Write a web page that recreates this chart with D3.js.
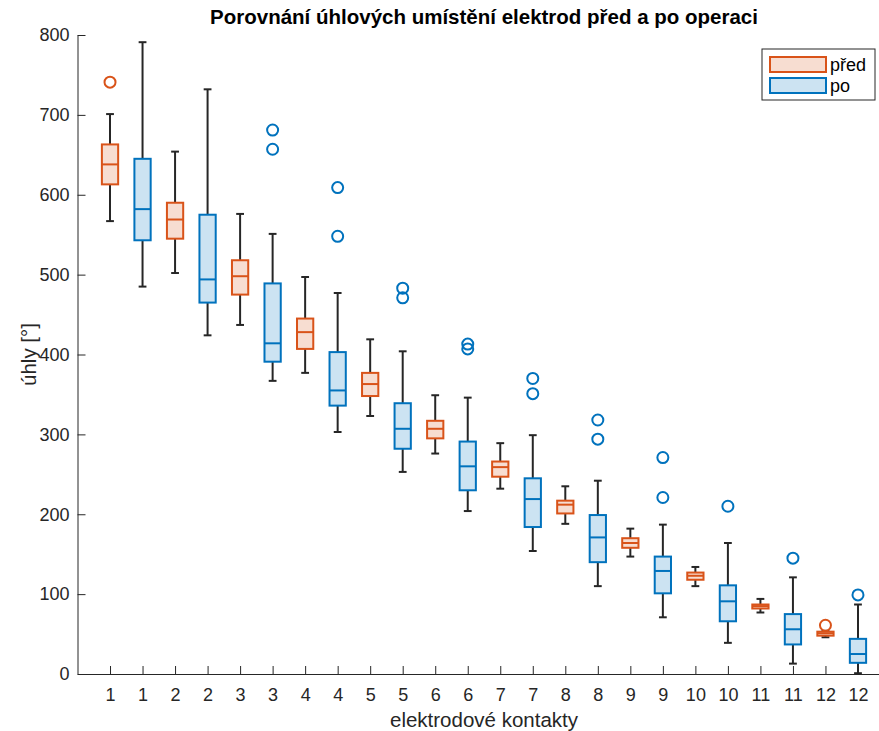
<!DOCTYPE html>
<html>
<head>
<meta charset="utf-8">
<script src="https://cdn.jsdelivr.net/npm/d3@7"></script>
<style>
  body { margin: 0; background: #fff; }
  svg { display: block; font-family: "Liberation Sans", Arial, sans-serif; }
</style>
</head>
<body>
<div id="chart"></div>
<script>
//----------------------------
// Data
//----------------------------

var contacts = ["1", "2", "3", "4", "5", "6", "7", "8", "9", "10", "11", "12"];

// před (before)
var predLow  = [567, 502, 437, 377, 323, 276, 232, 188, 147, 110, 77, 46];
var predQ1   = [613, 545, 475, 407, 348, 295, 247, 201, 158, 118, 82, 48];
var predMed  = [638, 569, 498, 428, 363, 307, 259, 212, 164, 123, 85, 51];
var predQ3   = [663, 590, 518, 445, 377, 317, 266, 217, 170, 127, 87, 53];
var predHigh = [701, 654, 576, 497, 419, 349, 289, 235, 182, 134, 94, 54];
var predOut  = [[741], [], [], [], [], [], [], [], [], [], [], [61]];

// po (after)
var poLow  = [485, 424, 367, 303, 253, 204, 154, 110, 71, 39, 13, 1];
var poQ1   = [543, 465, 391, 336, 282, 230, 184, 140, 101, 66, 37, 14];
var poMed  = [582, 494, 414, 355, 307, 260, 219, 171, 129, 91, 56, 25];
var poQ3   = [645, 575, 489, 403, 339, 291, 245, 199, 147, 111, 75, 44];
var poHigh = [791, 732, 551, 477, 404, 346, 299, 242, 187, 164, 121, 87];
var poOut  = [[], [], [657, 681], [548, 609], [471, 483], [407, 413],
              [351, 370], [294, 318], [221, 271], [210], [145], [99]];

var yTicks = [0, 100, 200, 300, 400, 500, 600, 700, 800];

//----------------------------
// Setup
//----------------------------

var w = 879, h = 731;
var orange = "#D95319", orangeFill = "#F7DDD1";
var blue = "#0072BD", blueFill = "#CCE3F2";
var ink = "#262626";

var svg = d3.select("#chart")
    .append("svg")
    .attr("width", w)
    .attr("height", h);

var x = d3.scaleLinear().domain([0, 25]).range([77.5, 890.5]);
var y = d3.scaleLinear().domain([0, 800]).range([674, 35]);

// one entry per box, alternating před / po
var boxes = [];
contacts.forEach(function (c, i) {
    boxes.push({ label: c, pos: 2 * i + 1, low: predLow[i], q1: predQ1[i], med: predMed[i],
                 q3: predQ3[i], high: predHigh[i], out: predOut[i], stroke: orange, fill: orangeFill });
    boxes.push({ label: c, pos: 2 * i + 2, low: poLow[i], q1: poQ1[i], med: poMed[i],
                 q3: poQ3[i], high: poHigh[i], out: poOut[i], stroke: blue, fill: blueFill });
});

//----------------------------
// Axes
//----------------------------

var yAxis = svg.append("g")
    .attr("transform", "translate(" + x(0) + ",0)")
    .call(d3.axisLeft(y).tickValues(yTicks).tickSizeInner(-8).tickSizeOuter(0).tickPadding(8));

var xAxis = svg.append("g")
    .attr("transform", "translate(0," + y(0) + ")")
    .call(d3.axisBottom(x)
        .tickValues(boxes.map(function (d) { return d.pos; }))
        .tickFormat(function (d, i) { return boxes[i].label; })
        .tickSizeInner(-8).tickSizeOuter(0).tickPadding(14));

[yAxis, xAxis].forEach(function (g) {
    g.selectAll("path, line").attr("stroke", ink).attr("stroke-width", 1);
    g.selectAll("text").attr("fill", ink).attr("font-size", 18)
        .attr("font-family", "Liberation Sans, Arial, sans-serif");
});

//----------------------------
// Boxes
//----------------------------

var halfBox = (x(1) - x(0)) * 0.25;
var halfCap = (x(1) - x(0)) * 0.12;

var g = svg.append("g");

var bx = g.selectAll("g.box")
    .data(boxes)
    .enter()
    .append("g")
    .attr("class", "box");

// whiskers
bx.append("line")
    .attr("x1", d => x(d.pos)).attr("x2", d => x(d.pos))
    .attr("y1", d => y(d.q3)).attr("y2", d => y(d.high))
    .attr("stroke", ink).attr("stroke-width", 2);
bx.append("line")
    .attr("x1", d => x(d.pos)).attr("x2", d => x(d.pos))
    .attr("y1", d => y(d.q1)).attr("y2", d => y(d.low))
    .attr("stroke", ink).attr("stroke-width", 2);
bx.append("line")
    .attr("x1", d => x(d.pos) - halfCap).attr("x2", d => x(d.pos) + halfCap)
    .attr("y1", d => y(d.high)).attr("y2", d => y(d.high))
    .attr("stroke", ink).attr("stroke-width", 2);
bx.append("line")
    .attr("x1", d => x(d.pos) - halfCap).attr("x2", d => x(d.pos) + halfCap)
    .attr("y1", d => y(d.low)).attr("y2", d => y(d.low))
    .attr("stroke", ink).attr("stroke-width", 2);

// box
bx.append("rect")
    .attr("x", d => x(d.pos) - halfBox)
    .attr("width", halfBox * 2)
    .attr("y", d => y(d.q3))
    .attr("height", d => y(d.q1) - y(d.q3))
    .attr("fill", d => d.fill)
    .attr("stroke", d => d.stroke)
    .attr("stroke-width", 2);

// median
bx.append("line")
    .attr("x1", d => x(d.pos) - halfBox).attr("x2", d => x(d.pos) + halfBox)
    .attr("y1", d => y(d.med)).attr("y2", d => y(d.med))
    .attr("stroke", d => d.stroke).attr("stroke-width", 2);

// outliers
bx.selectAll("circle")
    .data(d => d.out.map(v => ({ v: v, pos: d.pos, stroke: d.stroke })))
    .enter()
    .append("circle")
    .attr("cx", d => x(d.pos))
    .attr("cy", d => y(d.v))
    .attr("r", 5.5)
    .attr("fill", "none")
    .attr("stroke", d => d.stroke)
    .attr("stroke-width", 2);

//----------------------------
// Labels
//----------------------------

svg.append("text")
    .attr("x", (x(0) + x(25)) / 2)
    .attr("y", 24)
    .attr("text-anchor", "middle")
    .attr("font-weight", "bold")
    .attr("font-size", 20.5)
    .attr("fill", "#000")
    .text("Porovnání úhlových umístění elektrod před a po operaci");

svg.append("text")
    .attr("x", (x(0) + x(25)) / 2)
    .attr("y", 727)
    .attr("text-anchor", "middle")
    .attr("font-size", 20.5)
    .attr("fill", ink)
    .text("elektrodové kontakty");

svg.append("text")
    .attr("transform", "translate(36," + y(400) + ") rotate(-90)")
    .attr("text-anchor", "middle")
    .attr("font-size", 20.5)
    .attr("fill", ink)
    .text("úhly [°]");

//----------------------------
// Legend
//----------------------------

var legend = svg.append("g").attr("transform", "translate(762,49)");

legend.append("rect")
    .attr("width", 113).attr("height", 51)
    .attr("fill", "#fff").attr("stroke", ink).attr("stroke-width", 1);

var legendItems = [
    { name: "před", stroke: orange, fill: orangeFill },
    { name: "po", stroke: blue, fill: blueFill }
];

legendItems.forEach(function (d, i) {
    legend.append("rect")
        .attr("x", 8).attr("y", 8 + i * 21)
        .attr("width", 56).attr("height", 15)
        .attr("fill", d.fill).attr("stroke", d.stroke).attr("stroke-width", 2);
    legend.append("text")
        .attr("x", 68).attr("y", 22 + i * 21)
        .attr("font-size", 18).attr("fill", "#000")
        .text(d.name);
});
</script>
</body>
</html>
